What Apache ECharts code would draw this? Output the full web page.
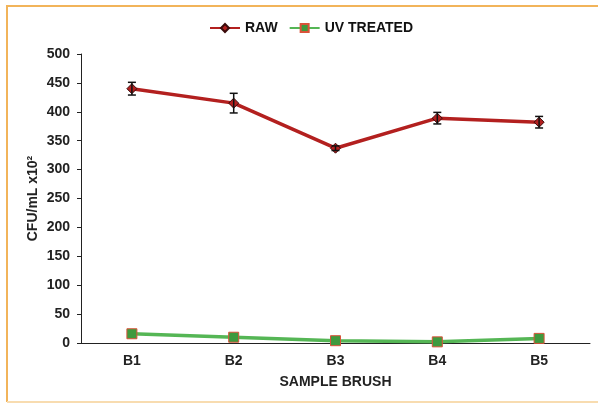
<!DOCTYPE html>
<html><head><meta charset="utf-8">
<script src="https://cdn.jsdelivr.net/npm/echarts@6/dist/echarts.min.js"></script>
<style>html,body{margin:0;padding:0;background:#fff}#c{width:598px;height:404px}</style>
</head><body><div id="c"></div>
<script>
const categories = ['B1','B2','B3','B4','B5'];
const rawValues = [440, 415, 337, 389, 382];
const rawErrors = [11, 17, 4, 10, 10];
const uvValues = [16, 10, 4, 2, 8];
const yTicks = [0, 50, 100, 150, 200, 250, 300, 350, 400, 450, 500];

const chart = echarts.init(document.getElementById('c'));
const font = 'Liberation Sans, Arial, sans-serif';
const errData = categories.map((c, i) => [i, rawValues[i] - rawErrors[i], rawValues[i] + rawErrors[i]]);

chart.setOption({
  animation: false,
  backgroundColor: '#fff',
  graphic: [{
    type: 'polyline',
    shape: { points: [[7, 402], [7, 6], [598, 6]] },
    style: { stroke: '#f2b45a', lineWidth: 2, fill: null }
  }, {
    type: 'line',
    shape: { x1: 7, y1: 402, x2: 598, y2: 402 },
    style: { stroke: '#f8dcb0', lineWidth: 2 }
  }],
  legend: {
    top: 16, left: 204,
    itemWidth: 30, itemHeight: 10, itemGap: 11,
    textStyle: { fontFamily: font, fontWeight: 'bold', fontSize: 14, color: '#111' },
    data: ['RAW', 'UV TREATED']
  },
  grid: { left: 81, right: 8, top: 54, bottom: 61 },
  xAxis: {
    type: 'category', data: categories, boundaryGap: true,
    axisLine: { lineStyle: { color: '#222', width: 1 } },
    axisTick: { show: false },
    axisLabel: { fontFamily: font, fontWeight: 'bold', fontSize: 14, color: '#222', margin: 11 },
    name: 'SAMPLE BRUSH', nameLocation: 'middle', nameGap: 32,
    nameTextStyle: { fontFamily: font, fontWeight: 'bold', fontSize: 14, color: '#222' }
  },
  yAxis: {
    type: 'value', min: yTicks[0], max: yTicks[yTicks.length - 1], interval: 50,
    axisLine: { show: true, lineStyle: { color: '#222', width: 1 } },
    axisTick: { show: true, length: 4, lineStyle: { color: '#222' } },
    splitLine: { show: false },
    axisLabel: { fontFamily: font, fontWeight: 'bold', fontSize: 14, color: '#222', margin: 11 },
    name: 'CFU/mL x10²', nameLocation: 'middle', nameGap: 41, nameMoveOverlap: false,
    nameTextStyle: { fontFamily: font, fontWeight: 'bold', fontSize: 14, color: '#222' }
  },
  series: [{
    name: 'RAW', type: 'line', data: rawValues, z: 3,
    symbol: 'diamond', symbolSize: 10,
    lineStyle: { color: '#b3201f', width: 3.5 },
    itemStyle: { color: '#b3201f', borderColor: '#3a0a0a', borderWidth: 1 }
  }, {
    name: 'UV TREATED', type: 'line', data: uvValues, z: 3,
    symbol: 'rect', symbolSize: 10,
    lineStyle: { color: '#55b655', width: 3.5 },
    itemStyle: { color: '#3e9a3e', borderColor: '#d9533a', borderWidth: 1 }
  }, {
    type: 'custom', name: 'err', data: errData, z: 4, silent: true,
    renderItem: function (params, api) {
      const x = api.value(0);
      const lo = api.coord([x, api.value(1)]);
      const hi = api.coord([x, api.value(2)]);
      const w = 4;
      const st = { stroke: '#111', lineWidth: 1.5 };
      return { type: 'group', children: [
        { type: 'line', shape: { x1: lo[0], y1: lo[1], x2: hi[0], y2: hi[1] }, style: st },
        { type: 'line', shape: { x1: lo[0] - w, y1: lo[1], x2: lo[0] + w, y2: lo[1] }, style: st },
        { type: 'line', shape: { x1: hi[0] - w, y1: hi[1], x2: hi[0] + w, y2: hi[1] }, style: st }
      ]};
    }
  }]
});
</script></body></html>
